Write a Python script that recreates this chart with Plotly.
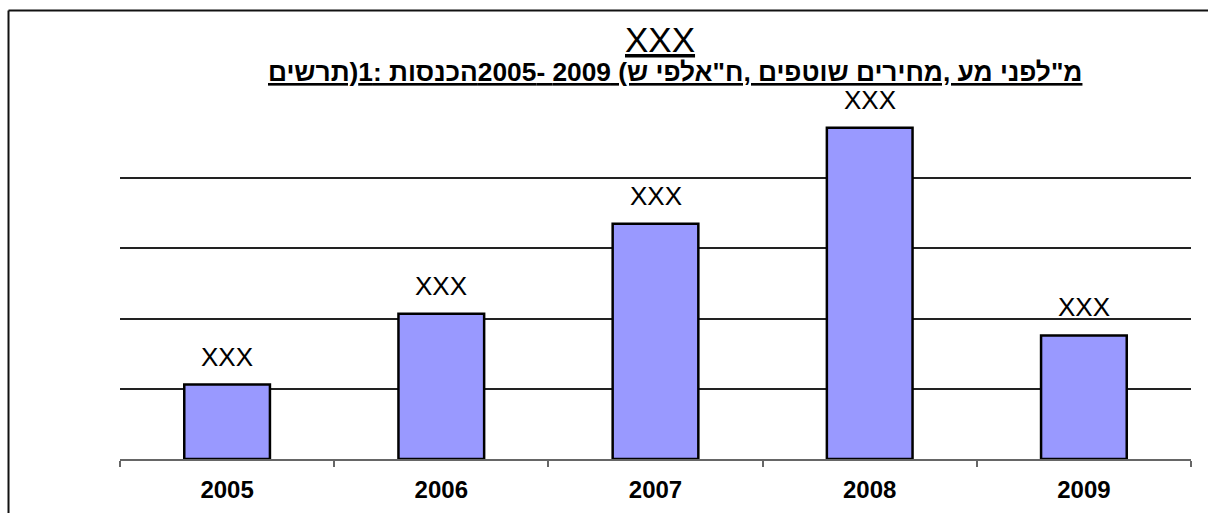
import plotly.graph_objects as go

years = ["2005", "2006", "2007", "2008", "2009"]
values = [1.06, 2.07, 3.35, 4.72, 1.76]
bar_labels = ["XXX", "XXX", "XXX", "XXX", "XXX"]
grid_vals = [1, 2, 3, 4]
title_text = "XXX"
subtitle_text = 'מ"לפני מע ,מחירים שוטפים ,ח"אלפי ש) 2009 -2005הכנסות :1(תרשים'

FONT = "Liberation Sans, Arial, sans-serif"

fig = go.Figure(
    go.Bar(
        x=years,
        y=values,
        width=0.4,
        marker=dict(color="#9999FF", line=dict(color="black", width=2.5)),
        hoverinfo="skip",
    )
)

for i, (v, lab) in enumerate(zip(values, bar_labels)):
    fig.add_annotation(
        x=i, y=v, text=lab, showarrow=False, yanchor="bottom", yshift=11,
        font=dict(family=FONT, size=26, color="black"),
    )

fig.add_annotation(
    xref="paper", yref="paper", x=0.504, y=1.196, text="<u>" + title_text + "</u>",
    showarrow=False, xanchor="center", yanchor="middle",
    font=dict(family=FONT, size=35, color="black"),
)
fig.add_annotation(
    xref="paper", yref="paper", x=0.518, y=1.1026,
    text="<u>\u202b" + subtitle_text + "\u202c</u>",
    showarrow=False, xanchor="center", yanchor="middle",
    font=dict(family=FONT, size=26.3, color="black", weight="bold"),
)

# outer chart-area border (left and top edges visible)
fig.add_shape(type="line", xref="paper", yref="paper", x0=-0.1041, x1=-0.1041, y0=1.278, y1=-0.4,
              line=dict(color="#111", width=2))
fig.add_shape(type="line", xref="paper", yref="paper", x0=-0.1041, x1=1.2, y0=1.278, y1=1.278,
              line=dict(color="#111", width=2))

fig.update_layout(
    width=1208, height=513,
    margin=dict(l=120, r=17, t=108, b=54, autoexpand=False),
    paper_bgcolor="white", plot_bgcolor="white",
    showlegend=False,
    xaxis=dict(
        type="category", range=[-0.5, len(years) - 0.5], automargin=False,
        showline=True, linecolor="#666", linewidth=1.5,
        ticks="outside", tickson="boundaries", ticklen=6, tickcolor="#666", tickwidth=1.5,
        showgrid=False, ticklabelstandoff=8, tickangle=0,
        tickfont=dict(family=FONT, size=24, color="black", weight="bold"),
    ),
    yaxis=dict(
        range=[0, 5], tickvals=grid_vals, showticklabels=False, showgrid=True,
        gridcolor="#222", gridwidth=1.5, zeroline=False, showline=False, ticks="",
        automargin=False,
    ),
)

fig.write_html("out.html")
